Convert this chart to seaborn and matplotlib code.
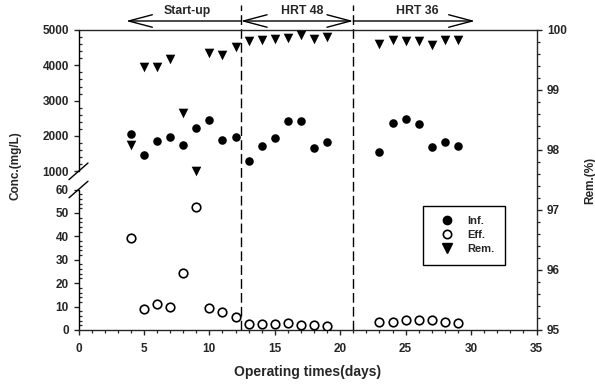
import numpy as np
import matplotlib
matplotlib.use("Agg")
import matplotlib.pyplot as plt
import seaborn as sns
from matplotlib.lines import Line2D
from matplotlib.ticker import FixedLocator, NullFormatter, FuncFormatter

# ---- data -------------------------------------------------------------
days = [4, 5, 6, 7, 8, 9, 10, 11, 12, 13, 14, 15, 16, 17, 18, 19,
        23, 24, 25, 26, 27, 28, 29]
inf_conc = [2050, 1450, 1850, 1960, 1750, 2220, 2450, 1890, 1980,
            1300, 1730, 1950, 2430, 2430, 1650, 1840,
            1550, 2360, 2480, 2340, 1690, 1840, 1720]
eff_conc = [39.2, 8.8, 11.1, 9.7, 24.2, 52.4, 9.5, 7.7, 5.7,
            2.4, 2.6, 2.4, 2.8, 2.1, 2.1, 1.8,
            3.6, 3.5, 4.3, 4.3, 4.2, 3.3, 2.8]
removal = [98.08, 99.39, 99.39, 99.51, 98.62, 97.65, 99.61, 99.59, 99.71,
           99.81, 99.83, 99.85, 99.86, 99.92, 99.85, 99.89,
           99.76, 99.84, 99.82, 99.82, 99.75, 99.83, 99.83]

phase_bounds = [12.4, 21.0]
phase_names = ["Start-up", "HRT 48", "HRT 36"]
phase_label_x = [8.3, 17.1, 25.9]
phase_span = [3.63, 30.3]

left_major = [0, 10, 20, 30, 40, 50, 60, 1000, 2000, 3000, 4000, 5000]
right_major = [95, 96, 97, 98, 99, 100]
x_major = [0, 5, 10, 15, 20, 25, 30, 35]

# ---- broken concentration scale --------------------------------------
LOW_TOP, HIGH_BOT = 0.4683, 0.529   # axes fractions of 60 and 1000


def fwd(y):
    y = np.asarray(y, dtype=float)
    lo = y / 60.0 * LOW_TOP
    mid = LOW_TOP + (y - 60.0) / 940.0 * (HIGH_BOT - LOW_TOP)
    hi = HIGH_BOT + (y - 1000.0) / 4000.0 * (1.0 - HIGH_BOT)
    return np.where(y <= 60, lo, np.where(y <= 1000, mid, hi))


def inv(u):
    u = np.asarray(u, dtype=float)
    lo = u / LOW_TOP * 60.0
    mid = 60.0 + (u - LOW_TOP) / (HIGH_BOT - LOW_TOP) * 940.0
    hi = 1000.0 + (u - HIGH_BOT) / (1.0 - HIGH_BOT) * 4000.0
    return np.where(u <= LOW_TOP, lo, np.where(u <= HIGH_BOT, mid, hi))


# ---- style ------------------------------------------------------------
sns.set_style("ticks")
plt.rcParams["font.family"] = ["Liberation Sans", "DejaVu Sans"]
plt.rcParams["font.weight"] = "bold"
plt.rcParams["axes.linewidth"] = 1.0

fig = plt.figure(figsize=(5.95, 3.87), dpi=100)
ax = fig.add_axes([78.5 / 595, 57 / 387, 458 / 595, 300 / 387])
ax2 = ax.twinx()

mk = 38
sns.scatterplot(x=days, y=inf_conc, ax=ax, color="black", marker="o",
                s=mk, linewidth=0, legend=False, zorder=3)
sns.scatterplot(x=days, y=eff_conc, ax=ax, color="white", edgecolor="black",
                marker="o", s=mk, linewidth=1.2, legend=False, zorder=3)
sns.scatterplot(x=days, y=removal, ax=ax2, color="black", marker="v",
                s=48, linewidth=0, legend=False, zorder=3)

ax.set_yscale("function", functions=(fwd, inv))
ax.set_ylim(0, 5000)
ax.set_xlim(0, 35)
ax2.set_ylim(95, 100)

# ticks
ax.xaxis.set_major_locator(FixedLocator(x_major))
ax.xaxis.set_minor_locator(FixedLocator([d for d in range(36) if d % 5]))
ax.yaxis.set_major_locator(FixedLocator(left_major))
ax.yaxis.set_major_formatter(FuncFormatter(lambda v, p: f"{v:.0f}"))
left_minor = [v for v in range(2, 60, 2) if v % 10] + \
             [v for v in range(1200, 5000, 200) if v % 1000]
ax.yaxis.set_minor_locator(FixedLocator(left_minor))
ax.yaxis.set_minor_formatter(NullFormatter())
ax2.yaxis.set_major_locator(FixedLocator(right_major))
ax2.yaxis.set_minor_locator(FixedLocator(
    [95 + 0.2 * i for i in range(26) if i % 5]))

ax.tick_params(axis="x", which="major", direction="out", length=3.5,
               width=1.0, pad=5.5, labelsize=8.5)
ax.tick_params(axis="x", which="minor", direction="out", length=2, width=0.9)
ax.tick_params(axis="y", which="major", direction="out", length=3.5,
               width=1.0, pad=3.5, labelsize=8.5)
ax.tick_params(axis="y", which="minor", direction="in", length=2, width=0.9)
ax2.tick_params(axis="y", which="major", direction="out", length=3.5,
                width=1.0, pad=4, labelsize=8.5)
ax2.tick_params(axis="y", which="minor", direction="out", length=2.5, width=0.9)
for lab in ax.get_xticklabels() + ax.get_yticklabels() + ax2.get_yticklabels():
    lab.set_fontweight("bold")

# spines: broken left axis drawn as two segments
ax.spines["left"].set_visible(False)
ax.spines["right"].set_visible(False)
for s in ("left", "top", "bottom"):
    ax2.spines[s].set_visible(False)
ytr = ax.get_yaxis_transform()
ax.plot([0, 0], [0, 60], color="black", lw=1.0, transform=ytr, clip_on=False)
ax.plot([0, 0], [1000, 5000], color="black", lw=1.0, transform=ytr,
        clip_on=False)
dx, dy = 9.5 / 458, 8.3 / 300
for yv in (1000, 60):
    fy = float(fwd(yv))
    ax.plot([-dx, dx], [fy - dy, fy + dy], color="black", lw=1.0,
            transform=ax.transAxes, clip_on=False)

# phase boundaries
for xb in phase_bounds:
    ax.axvline(xb, ymin=0, ymax=1.083, color="black", lw=1.0,
               ls=(0, (7, 3)), clip_on=False, zorder=2)

# phase arrows along the top
arrow_y = 1.03
akw = dict(xycoords=("data", "axes fraction"),
           textcoords=("data", "axes fraction"), annotation_clip=False)
head = "head_length=1.7,head_width=0.45"
ax.annotate("", xy=(phase_span[0], arrow_y), xytext=(phase_bounds[0], arrow_y),
            arrowprops=dict(arrowstyle="->," + head, lw=1.0, color="black",
                            shrinkA=0, shrinkB=0), **akw)
ax.annotate("", xy=(phase_bounds[0], arrow_y), xytext=(phase_bounds[1], arrow_y),
            arrowprops=dict(arrowstyle="<->," + head, lw=1.0, color="black",
                            shrinkA=0, shrinkB=0), **akw)
ax.annotate("", xy=(phase_span[1], arrow_y), xytext=(phase_bounds[1], arrow_y),
            arrowprops=dict(arrowstyle="->," + head, lw=1.0, color="black",
                            shrinkA=0, shrinkB=0), **akw)
for xl, name in zip(phase_label_x, phase_names):
    ax.text(xl, 1.062, name, transform=ax.get_xaxis_transform(),
            ha="center", va="center", fontsize=8.8, fontweight="bold")

# axis labels
ax.set_xlabel("Operating times(days)", fontsize=10, fontweight="bold")
ax.xaxis.set_label_coords(0.5, -0.118)
ax.set_ylabel("Conc.(mg/L)", fontsize=8.5, fontweight="bold", rotation=90,
              va="center", ha="center")
ax.yaxis.set_label_coords(-0.137, 0.547)
ax2.set_ylabel("Rem.(%)", fontsize=8.5, fontweight="bold", rotation=90,
               va="center", ha="center")
ax2.yaxis.set_label_coords(1.117, 0.5)

# legend
handles = [
    Line2D([], [], ls="none", marker="o", ms=6, mfc="black", mec="black"),
    Line2D([], [], ls="none", marker="o", ms=6, mfc="white", mec="black",
           mew=1.2),
    Line2D([], [], ls="none", marker="v", ms=6.8, mfc="black", mec="black"),
]
leg = ax2.legend(handles, ["Inf.", "Eff.", "Rem."], loc="upper left",
                 bbox_to_anchor=(0.7515, 0.414), borderaxespad=0,
                 frameon=True, fancybox=False, framealpha=1,
                 edgecolor="black", fontsize=8, borderpad=0.95,
                 handlelength=2.4, handletextpad=0.7, labelspacing=0.35)
leg.get_frame().set_linewidth(1.0)
for t in leg.get_texts():
    t.set_fontweight("bold")

fig.savefig("out.png", dpi=100, facecolor="white")
